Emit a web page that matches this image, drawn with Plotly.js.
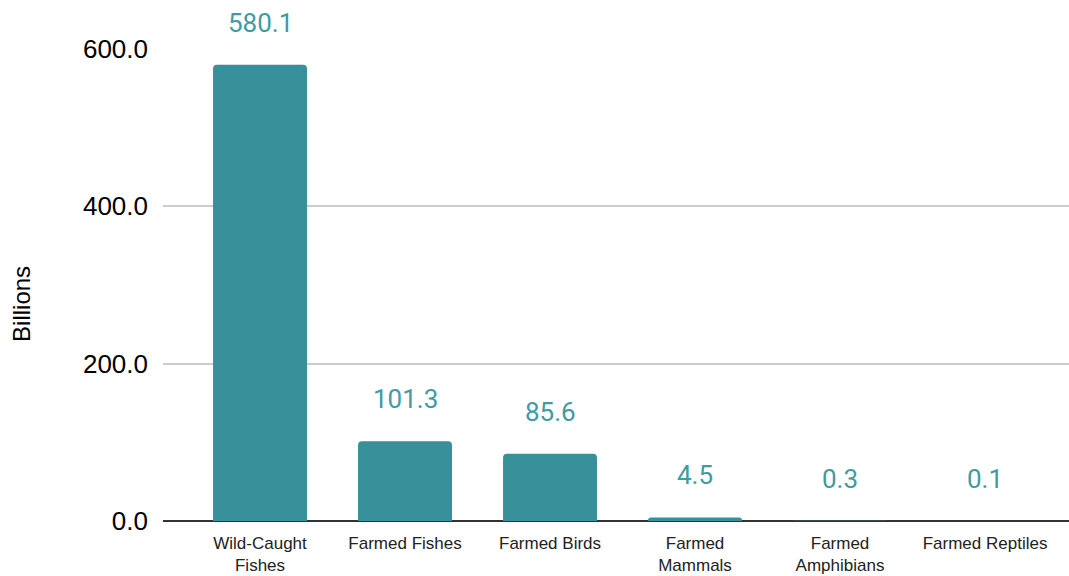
<!DOCTYPE html>
<html>
<head>
<meta charset="utf-8">
<script src="https://cdn.plot.ly/plotly-3.0.1.min.js"></script>
<style>html,body{margin:0;padding:0;background:#fff;}#chart{width:1069px;height:576px;}</style>
</head>
<body>
<div id="chart"></div>
<script>
const categories = ["Wild-Caught<br>Fishes", "Farmed Fishes", "Farmed Birds", "Farmed<br>Mammals", "Farmed<br>Amphibians", "Farmed Reptiles"];
const values = [580.1, 101.3, 85.6, 4.5, 0.3, 0.1];
const yTickVals = [0, 200, 400, 600];
const yTickText = ["0.0", "200.0", "400.0", "600.0"];
const yAxisLabel = "Billions";

const barColor = "#37909a";
const labelColor = "#419ba2";

const trace = {
  type: "bar",
  x: categories,
  y: values,
  marker: {color: barColor, cornerradius: 4},
  hoverinfo: "none"
};

const annotations = categories.map((c, i) => ({
  x: c, y: values[i], xref: "x", yref: "y",
  text: values[i].toFixed(1),
  showarrow: false, yanchor: "middle", yshift: 42,
  font: {family: "Roboto", size: 26, color: labelColor}
}));
annotations.push({
  xref: "paper", yref: "paper", x: -0.1556, y: 0.46,
  xanchor: "center", yanchor: "middle", textangle: -90,
  text: yAxisLabel, showarrow: false,
  font: {family: "Liberation Sans", size: 24, color: "#000"}
});

const layout = {
  width: 1069, height: 576,
  margin: {l: 163, r: 0, t: 49, b: 55},
  paper_bgcolor: "#fff", plot_bgcolor: "#fff",
  showlegend: false,
  bargap: 0.352,
  xaxis: {
    range: [-0.669, 5.579],
    showgrid: false, zeroline: false,
    showline: false,
    ticks: "",
    ticklabelstandoff: 10,
    tickfont: {family: "Liberation Sans", size: 17, color: "#222"},
    fixedrange: true
  },
  yaxis: {
    range: [0, 600],
    tickvals: yTickVals, ticktext: yTickText,
    showgrid: true, gridcolor: "#cccccc", gridwidth: 2,
    zeroline: true, zerolinecolor: "#333", zerolinewidth: 2,
    showline: false, ticks: "",
    ticklabelstandoff: 14,
    tickfont: {family: "Liberation Sans", size: 26, color: "#000"},
    fixedrange: true
  },
  annotations: annotations
};

Plotly.newPlot("chart", [trace], layout, {displayModeBar: false, staticPlot: true});
</script>
</body>
</html>
